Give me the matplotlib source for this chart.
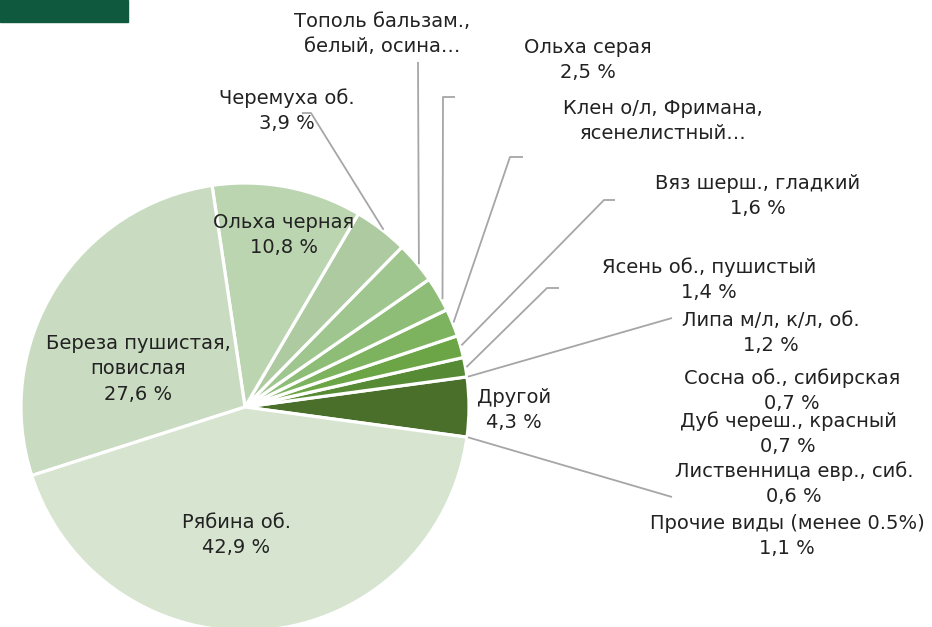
import matplotlib
matplotlib.use("Agg")
import numpy as np
import matplotlib.pyplot as plt
from matplotlib.patches import Rectangle

# ---------------- data ----------------
main_names = ["Другой", "Ясень об., пушистый", "Вяз шерш., гладкий",
              "Клен о/л, Фримана,\nясенелистный…", "Ольха серая",
              "Тополь бальзам.,\nбелый, осина…", "Черемуха об.", "Ольха черная",
              "Береза пушистая,\nповислая", "Рябина об."]
main_values = [4.3, 1.4, 1.6, 2.0, 2.5, 3.0, 3.9, 10.8, 27.6, 42.9]
main_show_value = [True, True, True, False, True, False, True, True, True, True]

other_names = ["Липа м/л, к/л, об.", "Сосна об., сибирская", "Дуб череш., красный",
               "Лиственница евр., сиб.", "Прочие виды (менее 0.5%)"]
other_values = [1.2, 0.7, 0.7, 0.6, 1.1]

# ---------------- style ----------------
main_colors = ["#4a6f2b", "#578a35", "#6ba545", "#7db35e", "#8ebd78",
               "#a0c690", "#adcaa0", "#bcd5b1", "#c9dcc1", "#d6e4d0"]
TEXT = "#222222"
LEAD = "#a6a6a6"
FS = 14
LS = 1.42

W, H = 932, 627
fig = plt.figure(figsize=(W / 100, H / 100), dpi=100)
ax = fig.add_axes([0, 0, 1, 1])

cx, cy, R = 245, H - 407, 224
total = sum(main_values)
start = -main_values[0] / total * 360 / 2
wedges, _ = ax.pie(main_values, colors=main_colors, startangle=start,
                   counterclock=True, center=(cx, cy), radius=R,
                   wedgeprops=dict(edgecolor="white", linewidth=2.3))
ax.set_xlim(0, W)
ax.set_ylim(0, H)
ax.set_aspect("equal")
ax.axis("off")

ax.add_patch(Rectangle((0, H - 22), 128, 22, color="#0f5a3f", clip_on=False))


def fmt(v):
    return f"{v:.1f} %".replace(".", ",")


def label_text(name, v, show):
    return f"{name}\n{fmt(v)}" if show else name


# label centres (image pixel coords), main labels in main order
main_pos = [(514, 410), (709, 280), (758, 196), (663, 121), (588, 60),
            (382, 34), (287, 111), (284, 235), (138, 369), (236, 535)]
other_pos = [(771, 333), (792, 391), (788, 434), (794, 484), (787, 536)]

for name, v, show, (x, y) in zip(main_names, main_values, main_show_value, main_pos):
    ax.text(x, H - y, label_text(name, v, show), ha="center",
            va="center", fontsize=FS, color=TEXT, linespacing=LS,
            multialignment="center")
for name, v, (x, y) in zip(other_names, other_values, other_pos):
    ax.text(x, H - y, label_text(name, v, True), ha="center", va="center",
            fontsize=FS, color=TEXT, linespacing=LS, multialignment="center")


def rim(idx, frac, r=R + 1):
    w = wedges[idx]
    a = np.deg2rad(w.theta1 + frac * (w.theta2 - w.theta1))
    return cx + r * np.cos(a), cy + r * np.sin(a)


def leader(pts_img, idx, frac):
    xs = [p[0] for p in pts_img]
    ys = [H - p[1] for p in pts_img]
    ex, ey = rim(idx, frac)
    xs.append(ex)
    ys.append(ey)
    ax.plot(xs, ys, color=LEAD, lw=1.3, solid_capstyle="butt")


# leader lines: label-side elbow points, then to the slice rim
leader([(302, 113), (311, 113)], 6, 0.46)          # Черемуха
leader([(418, 62)], 5, 0.43)                       # Тополь
leader([(455, 97), (443, 97)], 4, 0.32)            # Ольха серая
leader([(523, 157), (510, 157)], 3, 0.49)          # Клен
leader([(615, 200), (604, 200)], 2, 0.54)          # Вяз
leader([(559, 288), (547, 288)], 1, 0.49)          # Ясень
leader([(672, 318)], 0, 1.0)                       # Липа
leader([(672, 497)], 0, 0.0)                       # Прочие

fig.savefig("out.png", dpi=100)
